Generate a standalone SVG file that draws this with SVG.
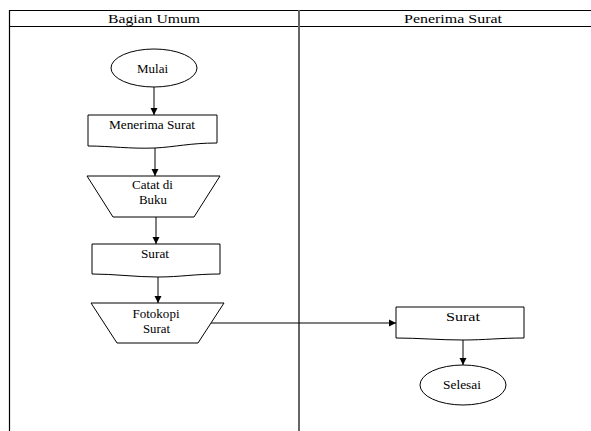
<svg xmlns="http://www.w3.org/2000/svg" width="591" height="431" viewBox="0 0 591 431">
<style>
.s{fill:#fff;stroke:#000;stroke-width:1}
.t{font-family:"Liberation Serif","Times New Roman",serif;font-size:12px;fill:#000;text-anchor:middle}
.h{font-family:"Liberation Serif","Times New Roman",serif;font-size:12.5px;fill:#000;text-anchor:middle}
.c{fill:none;stroke:#000;stroke-width:1}
</style>
<defs>
<marker id="a" markerWidth="8" markerHeight="8" refX="7" refY="4" orient="auto" markerUnits="userSpaceOnUse">
<path d="M0,0.5 L7,4 L0,7.5 Z" fill="#000"/>
</marker>
</defs>
<rect width="591" height="431" fill="#fff"/>
<g id="lanes">
<line x1="9" y1="10.5" x2="591" y2="10.5" stroke="#000" stroke-width="1.2"/>
<line x1="9" y1="26.5" x2="591" y2="26.5" stroke="#000" stroke-width="1.2"/>
<line x1="9.5" y1="10" x2="9.5" y2="431" stroke="#000" stroke-width="1.2"/>
<line x1="299" y1="10" x2="299" y2="431" stroke="#666" stroke-width="2"/>
<text class="h" x="154" y="22.5" textLength="92" lengthAdjust="spacingAndGlyphs">Bagian Umum</text>
<text class="h" x="453" y="22.5" textLength="98" lengthAdjust="spacingAndGlyphs">Penerima Surat</text>
</g>
<g id="connectors">
<line class="c" x1="154" y1="87" x2="154" y2="115" marker-end="url(#a)"/>
<line class="c" x1="155" y1="147" x2="155" y2="176" marker-end="url(#a)"/>
<line class="c" x1="156" y1="217" x2="156" y2="244" marker-end="url(#a)"/>
<line class="c" x1="158" y1="276" x2="158" y2="303" marker-end="url(#a)"/>
<line class="c" x1="211" y1="323" x2="396" y2="323" marker-end="url(#a)"/>
<line class="c" x1="463" y1="339" x2="463" y2="365" marker-end="url(#a)"/>
</g>
<g id="mulai">
<ellipse class="s" cx="154" cy="68" rx="43" ry="19"/>
<text class="t" x="152.5" y="73" textLength="31" lengthAdjust="spacingAndGlyphs">Mulai</text>
</g>
<g id="menerima">
<path class="s" d="M88,115 H217 V143 C190,143 175,147 155,148 C130,149 110,146 88,146 Z"/>
<text class="t" x="152" y="128.5" textLength="86" lengthAdjust="spacingAndGlyphs">Menerima Surat</text>
</g>
<g id="catat">
<path class="s" d="M87,176 H220 L194,217 H113 Z"/>
<text class="t" x="152.5" y="189" textLength="41" lengthAdjust="spacingAndGlyphs">Catat di</text>
<text class="t" x="153" y="204" textLength="28" lengthAdjust="spacingAndGlyphs">Buku</text>
</g>
<g id="surat1">
<path class="s" d="M92,244 H220 V274 C195,274 180,277 158,277 C135,277 115,274 92,274 Z"/>
<text class="t" x="155" y="257.5" textLength="28" lengthAdjust="spacingAndGlyphs">Surat</text>
</g>
<g id="fotokopi">
<path class="s" d="M91,303 H224 L198,343 H117 Z"/>
<text class="t" x="156" y="317.5" textLength="47" lengthAdjust="spacingAndGlyphs">Fotokopi</text>
<text class="t" x="156.5" y="332.5" textLength="27" lengthAdjust="spacingAndGlyphs">Surat</text>
</g>
<g id="surat2">
<path class="s" d="M396,307 H524 V338 C500,338 485,340 463,340 C440,340 418,338 396,338 Z"/>
<text class="t" x="463" y="320.5" textLength="34" lengthAdjust="spacingAndGlyphs">Surat</text>
</g>
<g id="selesai">
<ellipse class="s" cx="463" cy="385" rx="43" ry="20"/>
<text class="t" x="462" y="389" textLength="38" lengthAdjust="spacingAndGlyphs">Selesai</text>
</g>
</svg>
